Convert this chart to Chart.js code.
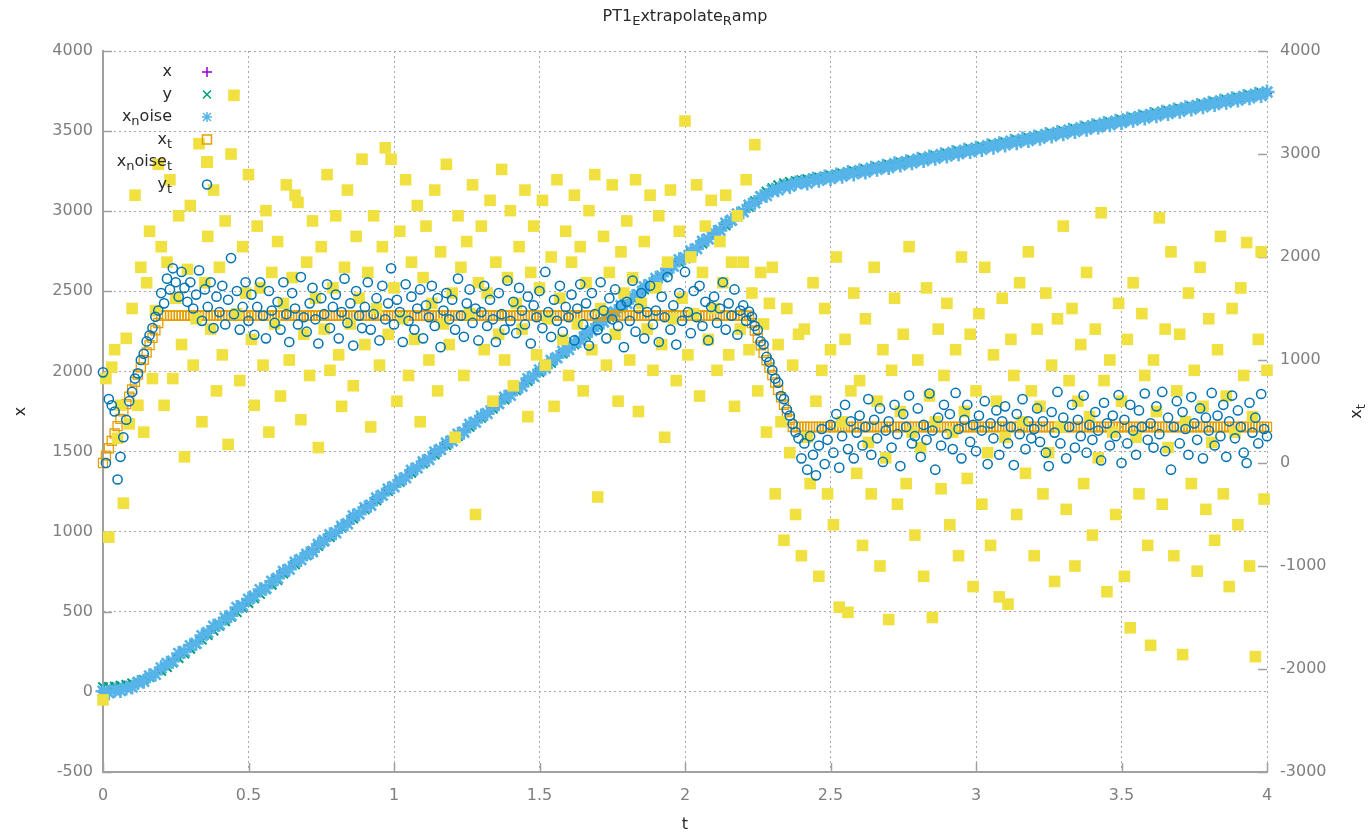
<!DOCTYPE html>
<html><head><meta charset="utf-8">
<script src="https://cdn.jsdelivr.net/npm/chart.js@4.4.0/dist/chart.umd.min.js"></script>
<style>html,body{margin:0;padding:0;background:#fff;overflow:hidden}canvas{display:block}</style>
</head><body><canvas id="c" width="1370" height="834"></canvas>
<script>
// ---- sampling grids (time axis t) ----
const T_FINE_COUNT = 401, T_FINE_STEP = 0.01;
const T_COARSE_COUNT = 201, T_COARSE_STEP = 0.02;
const tFine = Array.from({length: T_FINE_COUNT}, (_, i) => +(i * T_FINE_STEP).toFixed(2));
const tCoarse = Array.from({length: T_COARSE_COUNT}, (_, i) => +(i * T_COARSE_STEP).toFixed(2));

// ---- left axis series (t every 0.02) ----
const xVals = [0,1,6,13,23,36,51,70,92,116,143,
172,200,229,257,286,315,343,372,400,429,
458,486,515,543,572,601,629,658,686,715,
744,772,801,829,858,887,915,944,972,1001,
1030,1058,1087,1115,1144,1173,1201,1230,1258,1287,
1316,1344,1373,1401,1430,1459,1487,1516,1544,1573,
1602,1630,1659,1687,1716,1745,1773,1802,1830,1859,
1888,1916,1945,1973,2002,2031,2059,2088,2116,2145,
2174,2202,2231,2259,2288,2317,2345,2374,2402,2431,
2460,2488,2517,2545,2574,2603,2631,2660,2688,2717,
2746,2774,2803,2831,2860,2889,2917,2946,2974,3003,
3032,
3059,3083,3104,3123,3139,3151,3161,3169,
3176,3183,3190,3197,3204,3211,3218,3225,3232,3239,
3246,3253,3260,3267,3274,3281,3288,3295,3302,3309,
3316,3323,3330,3337,3344,3351,3358,3365,3372,3379,
3386,3393,3400,3407,3414,3421,3428,3435,3442,3449,
3456,3463,3470,3477,3484,3491,3498,3505,3512,3519,
3526,3533,3540,3547,3554,3561,3568,3575,3582,3589,
3596,3603,3610,3617,3624,3631,3638,3645,3652,3659,
3666,3673,3680,3687,3694,3701,3708,3715,3722,3729,
3736];

const yVals = [30,31,34,39,45,54,63,76,92,110,131,
154,182,211,239,268,297,325,354,382,411,
440,468,497,525,554,583,611,640,668,697,
738,766,795,823,852,881,909,938,966,995,
1024,1052,1081,1109,1138,1167,1195,1224,1252,1281,
1310,1338,1367,1395,1424,1453,1481,1510,1538,1567,
1596,1624,1653,1681,1710,1739,1767,1796,1824,1853,
1882,1910,1939,1967,1996,2025,2053,2082,2110,2139,
2168,2196,2225,2253,2282,2311,2339,2368,2396,2425,
2454,2482,2511,2539,2568,2597,2625,2654,2682,2711,
2740,2768,2797,2825,2854,2883,2911,2940,2968,2997,
3026,
3064,3095,3122,3145,3163,3175,3183,3189,
3194,3200,3206,3212,3218,3224,3230,3236,3243,3250,
3256,3263,3270,3277,3284,3291,3298,3305,3312,3319,
3326,3333,3340,3347,3354,3361,3368,3375,3382,3389,
3396,3403,3410,3417,3424,3431,3438,3445,3452,3459,
3466,3473,3480,3487,3494,3501,3508,3515,3522,3529,
3536,3543,3550,3557,3564,3571,3578,3585,3592,3599,
3606,3613,3620,3627,3634,3641,3648,3655,3662,3669,
3676,3683,3690,3697,3704,3711,3718,3725,3732,3739,
3746];

const xNoiseVals = [4,-6,12,9,25,30,58,66,100,110,150,
178,191,240,253,288,303,351,371,410,422,
461,476,527,538,579,598,638,647,690,709,
752,765,810,826,860,875,921,945,981,993,
1034,1049,1098,1111,1150,1165,1210,1228,1266,1280,
1322,1336,1383,1398,1436,1450,1497,1513,1553,1566,
1608,1621,1670,1683,1722,1737,1782,1800,1839,1851,
1895,1907,1955,1970,2009,2022,2068,2086,2126,2137,
2180,2193,2242,2255,2294,2309,2354,2372,2411,2424,
2467,2479,2528,2541,2581,2594,2640,2658,2697,2709,
2752,2766,2812,2827,2867,2880,2925,2944,2983,2996,
3038,
3052,3091,3098,3131,3134,3158,3155,3176,
3182,3176,3199,3193,3213,3204,3226,3219,3241,3233,
3253,3245,3268,3262,3281,3273,3296,3289,3309,3302,
3324,3316,3338,3331,3352,3344,3366,3359,3380,3372,
3393,3386,3409,3400,3421,3414,3437,3428,3450,3442,
3463,3456,3479,3470,3491,3484,3506,3498,3520,3512,
3534,3526,3548,3540,3562,3554,3576,3568,3590,3582,
3604,3596,3618,3610,3632,3624,3646,3638,3660,3652,
3674,3666,3688,3680,3702,3694,3716,3708,3730,3722,
3744];

// ---- right axis series (t every 0.01) ----
const xTVals = [0,72,143,215,286,358,429,501,572,644,715,787,858,930,1001,1073,1144,1216,1287,1359,1430,
1430,1430,1430,1430,1430,1430,1430,1430,1430,1430,1430,1430,1430,1430,1430,1430,1430,1430,1430,1430,
1430,1430,1430,1430,1430,1430,1430,1430,1430,1430,1430,1430,1430,1430,1430,1430,1430,1430,1430,1430,
1430,1430,1430,1430,1430,1430,1430,1430,1430,1430,1430,1430,1430,1430,1430,1430,1430,1430,1430,1430,
1430,1430,1430,1430,1430,1430,1430,1430,1430,1430,1430,1430,1430,1430,1430,1430,1430,1430,1430,1430,
1430,1430,1430,1430,1430,1430,1430,1430,1430,1430,1430,1430,1430,1430,1430,1430,1430,1430,1430,1430,
1430,1430,1430,1430,1430,1430,1430,1430,1430,1430,1430,1430,1430,1430,1430,1430,1430,1430,1430,1430,
1430,1430,1430,1430,1430,1430,1430,1430,1430,1430,1430,1430,1430,1430,1430,1430,1430,1430,1430,1430,
1430,1430,1430,1430,1430,1430,1430,1430,1430,1430,1430,1430,1430,1430,1430,1430,1430,1430,1430,1430,
1430,1430,1430,1430,1430,1430,1430,1430,1430,1430,1430,1430,1430,1430,1430,1430,1430,1430,1430,1430,
1430,1430,1430,1430,1430,1430,1430,1430,1430,1430,1430,1430,1430,1430,1430,1430,1430,1430,1430,1430,
1430,1430,
1358,1286,1214,1142,1070,998,926,854,782,710,638,566,494,422,350,
350,350,350,350,350,350,350,350,350,350,350,350,350,350,350,350,350,350,350,350,
350,350,350,350,350,350,350,350,350,350,350,350,350,350,350,350,350,350,350,350,
350,350,350,350,350,350,350,350,350,350,350,350,350,350,350,350,350,350,350,350,
350,350,350,350,350,350,350,350,350,350,350,350,350,350,350,350,350,350,350,350,
350,350,350,350,350,350,350,350,350,350,350,350,350,350,350,350,350,350,350,350,
350,350,350,350,350,350,350,350,350,350,350,350,350,350,350,350,350,350,350,350,
350,350,350,350,350,350,350,350,350,350,350,350,350,350,350,350,350,350,350,350,
350,350,350,350,350,350,350,350,350,350,350,350,350,350,350,350,350,350,350,350,
350,350,350];

const xNoiseTVals = [-2300,820,-720,930,1100,240,560,-390,1210,380,
1500,2600,560,1900,300,1750,2250,820,1480,2900,
2100,560,1950,2750,820,1600,2400,1150,60,1880,
2500,950,1400,3100,400,1750,2200,1300,2650,700,
1900,1050,2350,180,3000,3570,1450,800,2100,1650,
2800,1200,560,2300,1700,950,2450,300,1850,1350,
2150,650,1550,2700,1000,1800,2600,2530,420,1250,
1950,850,2350,1600,150,2100,1300,2800,900,1700,
2400,1050,550,1900,2650,1350,750,2200,1600,2950,
1150,1850,350,2400,1500,950,2100,3060,1250,2950,
1700,600,2250,1400,2750,850,1950,1200,2500,400,
1800,2300,1000,1550,2650,700,2050,1350,2900,1150,
1650,250,2400,1900,850,2150,1450,2700,-500,1750,
2300,1100,1650,2550,600,1950,1250,2850,1000,1800,
2450,750,1550,2100,1300,2650,450,1850,2300,1050,
1700,2550,950,1400,2000,550,2750,1600,1200,2250,
850,1950,2600,1350,2100,700,1750,2450,1100,2800,
-330,1500,2200,950,1850,2700,1250,600,2050,1650,
2350,1000,1800,2750,500,1550,2150,1300,2600,900,
1700,2400,1150,250,1950,2650,1400,800,2250,1600,
3320,1050,2000,1450,2700,650,1850,2300,1200,2550,
1500,900,2150,1750,2600,1050,1950,550,2400,1300,
1950,2750,1100,1650,3090,700,1850,1350,300,1550,
1900,-300,1150,400,-750,1500,100,950,-500,1250,
-900,1300,250,-200,1750,600,-1100,900,1500,-300,
1100,-600,2000,-1400,400,1200,-1450,700,1650,-100,
800,-800,1400,200,-300,1900,600,-1000,1100,50,
-1520,900,1600,-400,500,1250,-200,2100,300,-700,
1000,150,-1100,1700,650,-1500,400,1300,-250,850,
1550,-600,300,1100,-900,2000,500,-150,1250,-1200,
700,1450,-400,1900,100,-800,1050,600,-1300,1600,
250,-1370,1200,850,-500,1750,400,-100,2050,700,
-900,1300,550,-300,1650,100,950,-1150,1400,350,
2300,-450,800,1500,-1000,600,1150,-200,1850,450,
-700,1300,50,2430,800,-1250,1000,300,-500,1550,
600,-1100,1200,-1600,1750,250,-300,1450,850,-800,
-1770,1000,500,2380,-400,1300,150,2050,-900,700,
1250,-1860,400,1650,-200,900,-1050,1900,550,-450,
1400,200,-750,1100,2200,-300,650,-1200,1500,300,
-600,1700,850,2140,-1000,450,-1880,1200,2050,-350,
900];

const yTVals = [880,0,620,560,500,-160,60,250,420,600,
690,820,870,1000,1060,1180,1240,1310,1420,1480,
1650,1550,1790,1685,1890,1755,1615,1855,1700,1565,
1755,1500,1635,1870,1380,1685,1515,1755,1310,1615,
1465,1720,1345,1585,1990,1445,1670,1295,1515,1755,
1380,1635,1245,1515,1755,1430,1210,1670,1480,1360,
1565,1295,1755,1445,1175,1650,1500,1345,1805,1415,
1275,1550,1700,1395,1160,1600,1445,1735,1310,1515,
1635,1210,1465,1790,1360,1550,1140,1670,1430,1310,
1515,1755,1295,1445,1600,1190,1720,1395,1550,1890,
1345,1585,1465,1175,1735,1380,1615,1295,1500,1685,
1210,1530,1415,1720,1330,1600,1125,1480,1650,1395,
1585,1295,1790,1430,1225,1550,1685,1360,1500,1190,
1465,1720,1330,1585,1395,1175,1650,1445,1295,1770,
1380,1565,1260,1700,1480,1345,1615,1160,1530,1415,
1670,1310,1855,1465,1225,1585,1380,1720,1275,1515,
1415,1635,1190,1500,1735,1345,1550,1140,1650,1445,
1295,1755,1480,1210,1600,1395,1685,1330,1530,1125,
1565,1380,1770,1275,1500,1650,1210,1465,1720,1345,
1480,1175,1615,1415,1805,1295,1530,1150,1650,1380,
1855,1465,1260,1670,1415,1720,1330,1565,1190,1515,
1615,1360,1500,1755,1295,1550,1430,1685,1245,1480,
1530,1380,1470,1420,1330,1290,1180,1150,1030,980,
900,820,780,650,620,520,460,380,300,240,
45,190,-65,260,80,-120,170,330,-10,225,
370,100,475,-45,260,565,135,405,45,295,
460,170,350,620,80,420,240,530,10,315,
405,150,565,280,-30,475,350,655,190,260,
530,60,370,225,675,315,-65,440,170,565,
280,475,135,680,330,45,420,565,205,370,
115,460,315,600,-10,385,240,510,80,405,
550,190,350,-20,475,280,620,135,405,240,
330,530,205,405,100,-30,495,295,690,190,
440,45,350,565,150,420,260,655,100,370,
225,495,315,25,585,385,170,460,260,660,
0,420,190,565,315,80,510,350,675,225,
385,150,550,280,690,115,440,-65,350,600,
190,495,330,80,640,385,225,530,45,440,
315,680,170,460,260,565,60,405,655,240,
510,350,100,0,585,295,440,190,670,330,
260];

// ---- axis ticks ----
const T_MIN = 0, T_MAX = 4, T_STEP = 0.5;
const Y_MIN = -500, Y_MAX = 4000, Y_STEP = 500;
const Y2_MIN = -3000, Y2_MAX = 4000, Y2_STEP = 1000;

// ---- styles ----
const FONT = '"DejaVu Sans", Verdana, sans-serif';
const FS = 16;
const TICK_COLOR = '#7f7f7f';
const AXIS_COLOR = '#a0a0a0';
const GRID_COLOR = '#a8a8a8';
const TEXT_COLOR = '#2a2a2a';
const C = {x:'#9400d3', y:'#009e73', xn:'#56b4e9', xt:'#e69f00', xnt:'#f0e040', yt:'#0072b2'};

const pts = (ts, vs) => vs.map((v, i) => ({x: ts[i], y: v}));

function drawRich(ctx, parts, x, y, align, size, color) {
  const sub = Math.round(size * 0.8);
  let w = 0;
  parts.forEach(p => { ctx.font = (p[1] ? sub : size) + 'px ' + FONT; w += ctx.measureText(p[0]).width; });
  let cx = align === 'right' ? x - w : align === 'center' ? x - w / 2 : x;
  ctx.fillStyle = color; ctx.textAlign = 'left'; ctx.textBaseline = 'middle';
  parts.forEach(p => {
    ctx.font = (p[1] ? sub : size) + 'px ' + FONT;
    ctx.fillText(p[0], cx, y + (p[1] ? size * 0.32 : 0));
    cx += ctx.measureText(p[0]).width;
  });
}

function drawMarker(ctx, style, color, x, y) {
  ctx.save(); ctx.strokeStyle = color; ctx.fillStyle = color; ctx.lineWidth = 1.5; ctx.beginPath();
  if (style === 'plus' || style === 'star') { ctx.moveTo(x-5,y); ctx.lineTo(x+5,y); ctx.moveTo(x,y-5); ctx.lineTo(x,y+5); }
  if (style === 'cross' || style === 'star') { ctx.moveTo(x-4,y-4); ctx.lineTo(x+4,y+4); ctx.moveTo(x-4,y+4); ctx.lineTo(x+4,y-4); }
  if (style === 'open') { ctx.rect(x-4.5,y-4.5,9,9); }
  if (style === 'circle') { ctx.arc(x,y,4.5,0,Math.PI*2); }
  ctx.stroke();
  if (style === 'filled') { ctx.fillRect(x-6,y-6,12,12); }
  ctx.restore();
}

const legendItems = [
  {parts:[['x']], style:'plus', color:C.x},
  {parts:[['y']], style:'cross', color:C.y},
  {parts:[['x'],['n',1],['oise']], style:'star', color:C.xn},
  {parts:[['x'],['t',1]], style:'open', color:C.xt},
  {parts:[['x'],['n',1],['oise'],['t',1]], style:'filled', color:C.xnt},
  {parts:[['y'],['t',1]], style:'circle', color:C.yt}
];

const decor = {
  id: 'decor',
  beforeDatasetsDraw(chart) {
    const {ctx, chartArea: a, scales: {x, y, y2}} = chart;
    ctx.save(); ctx.strokeStyle = AXIS_COLOR; ctx.lineWidth = 1.5; ctx.beginPath();
    x.ticks.forEach(tk => { const p = Math.round(x.getPixelForValue(tk.value)) + 0.5; ctx.moveTo(p, a.bottom); ctx.lineTo(p, a.bottom - 9); });
    y.ticks.forEach(tk => { const p = Math.round(y.getPixelForValue(tk.value)) + 0.5; ctx.moveTo(a.left, p); ctx.lineTo(a.left + 9, p); });
    y2.ticks.forEach(tk => { const p = Math.round(y2.getPixelForValue(tk.value)) + 0.5; ctx.moveTo(a.right, p); ctx.lineTo(a.right - 9, p); });
    ctx.stroke(); ctx.restore();
  },
  afterDraw(chart) {
    const {ctx, chartArea: a} = chart;
    ctx.save();
    drawRich(ctx, [['PT1'],['E',1],['xtrapolate'],['R',1],['amp']], (a.left + a.right) / 2, 17, 'center', FS, TEXT_COLOR);
    ctx.translate(1357, (a.top + a.bottom) / 2); ctx.rotate(-Math.PI / 2);
    drawRich(ctx, [['x'],['t',1]], 0, 0, 'center', FS, TEXT_COLOR);
    ctx.restore();
    ctx.save();
    legendItems.forEach((it, i) => {
      const yy = 72 + i * 22.5;
      drawRich(ctx, it.parts, 172, yy, 'right', FS, TEXT_COLOR);
      drawMarker(ctx, it.style, it.color, 207, yy);
    });
    ctx.restore();
  }
};

const tickFont = {family: FONT, size: FS};
new Chart(document.getElementById('c'), {
  type: 'scatter',
  data: {
    datasets: [
      {label:'x', data: pts(tCoarse, xVals), yAxisID:'y', order:6, clip:false,
       pointStyle:'cross', pointRadius:5, pointBorderColor:C.x, pointBackgroundColor:C.x, pointBorderWidth:1.5},
      {label:'y', data: pts(tCoarse, yVals), yAxisID:'y', order:5, clip:false,
       pointStyle:'crossRot', pointRadius:6.5, pointBorderColor:C.y, pointBackgroundColor:C.y, pointBorderWidth:2},
      {label:'x_noise', data: pts(tCoarse, xNoiseVals), yAxisID:'y', order:4, clip:false,
       pointStyle:'star', pointRadius:7.5, pointBorderColor:C.xn, pointBackgroundColor:C.xn, pointBorderWidth:2.6},
      {label:'x_t', data: pts(tFine, xTVals), yAxisID:'y2', order:3, clip:false,
       pointStyle:'rect', pointRadius:6.4, pointBorderColor:C.xt, pointBackgroundColor:'rgba(0,0,0,0)', pointBorderWidth:1.3},
      {label:'x_noise_t', data: pts(tFine, xNoiseTVals), yAxisID:'y2', order:2, clip:false,
       pointStyle:'rect', pointRadius:8.2, pointBorderColor:C.xnt, pointBackgroundColor:C.xnt, pointBorderWidth:0},
      {label:'y_t', data: pts(tFine, yTVals), yAxisID:'y2', order:1, clip:false,
       pointStyle:'circle', pointRadius:4.6, pointBorderColor:C.yt, pointBackgroundColor:'rgba(0,0,0,0)', pointBorderWidth:1.5}
    ]
  },
  options: {
    responsive: false, animation: false, devicePixelRatio: 1,
    layout: {padding: {top: 51, left: 0, right: 0, bottom: 0}},
    plugins: {legend: {display: false}, title: {display: false}, tooltip: {enabled: false}},
    events: [],
    scales: {
      x: {type:'linear', position:'bottom', min:T_MIN, max:T_MAX,
          ticks:{stepSize:T_STEP, color:TICK_COLOR, font:tickFont, padding:14, maxRotation:0, autoSkip:false, callback: v => String(v)},
          grid:{color:GRID_COLOR, lineWidth:1, drawTicks:false},
          border:{display:true, color:AXIS_COLOR, width:2, dash:[2,3]},
          title:{display:true, text:'t', color:TEXT_COLOR, font:{family:FONT, size:FS}, padding:{top:0, bottom:0}},
          afterFit(s){ s.height = 62; }},
      y: {type:'linear', position:'left', min:Y_MIN, max:Y_MAX,
          ticks:{stepSize:Y_STEP, color:TICK_COLOR, font:tickFont, padding:10, callback: v => String(v)},
          grid:{color:GRID_COLOR, lineWidth:1, drawTicks:false},
          border:{display:true, color:AXIS_COLOR, width:2, dash:[2,3]},
          title:{display:true, text:'x', color:TEXT_COLOR, font:{family:FONT, size:FS}, padding:{top:11, bottom:0}},
          afterFit(s){ s.width = 103; }},
      y2: {type:'linear', position:'right', min:Y2_MIN, max:Y2_MAX,
          ticks:{stepSize:Y2_STEP, color:TICK_COLOR, font:tickFont, padding:13, callback: v => String(v)},
          grid:{drawOnChartArea:false, drawTicks:false},
          border:{display:false},
          afterFit(s){ s.width = 103; }}
    }
  },
  plugins: [decor]
});
</script></body></html>
